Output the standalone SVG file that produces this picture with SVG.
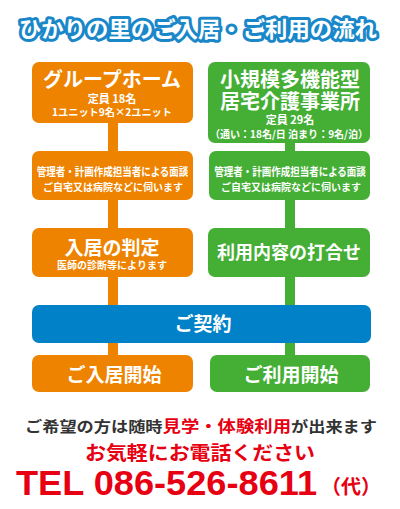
<svg xmlns="http://www.w3.org/2000/svg" width="400" height="509" viewBox="0 0 400 509">
<style>
.j{font-family:"Noto Sans CJK JP","Noto Sans",sans-serif;font-weight:bold;text-anchor:middle;fill:#fff}
.o{fill:#ee8300}
.g{fill:#44ae35}
.b{fill:#0081c8}
.lo{stroke:#ee8300;stroke-width:10;fill:none}
.lg{stroke:#44ae35;stroke-width:10;fill:none}
.dk{fill:#333}
.rd{fill:#e60012}
</style>
<rect width="400" height="509" fill="#fff"/>
<text id="title" class="j" x="198" y="37" font-size="22" stroke="#1a87c9" stroke-width="6" stroke-linejoin="round" paint-order="stroke" textLength="358" lengthAdjust="spacingAndGlyphs">ひかりの里のご入居・ご利用の流れ</text>
<g id="connectors">
<line class="lo" x1="113" y1="120" x2="113" y2="358"/>
<line class="lg" x1="290" y1="140" x2="290" y2="358"/>
</g>
<g id="gh">
<rect class="o" x="32" y="62" width="161" height="61" rx="7"/>
<text class="j" x="112" y="87" font-size="20">グループホーム</text>
<text class="j" x="112" y="103" font-size="11">定員 18名</text>
<text class="j" x="112" y="116" font-size="10" textLength="120" lengthAdjust="spacingAndGlyphs">1ユニット9名×2ユニット</text>
</g>
<g id="sk">
<rect class="g" x="208" y="62" width="162" height="81" rx="7"/>
<text class="j" x="290" y="87" font-size="20">小規模多機能型</text>
<text class="j" x="290" y="109" font-size="20">居宅介護事業所</text>
<text class="j" x="290" y="124" font-size="11">定員 29名</text>
<text class="j" x="289" y="138" font-size="10.5" textLength="158" lengthAdjust="spacingAndGlyphs">（通い：18名/日 泊まり：9名/泊）</text>
</g>
<g id="o2">
<rect class="o" x="32" y="151" width="161" height="49" rx="7"/>
<text class="j" transform="translate(112.5,176) scale(1,1.25)" x="0" y="0" font-size="9.5">管理者・計画作成担当者による面談</text>
<text class="j" x="113" y="191" font-size="10">ご自宅又は病院などに伺います</text>
</g>
<g id="g2">
<rect class="g" x="209" y="151" width="161" height="49" rx="7"/>
<text class="j" transform="translate(290,176) scale(1,1.25)" x="0" y="0" font-size="9.5">管理者・計画作成担当者による面談</text>
<text class="j" x="291" y="191" font-size="10">ご自宅又は病院などに伺います</text>
</g>
<g id="o3">
<rect class="o" x="32" y="228" width="161" height="49" rx="7"/>
<text class="j" x="112" y="255" font-size="19">入居の判定</text>
<text class="j" x="112" y="269" font-size="10">医師の診断等によります</text>
</g>
<g id="g3">
<rect class="g" x="208" y="228" width="162" height="49" rx="7"/>
<text class="j" x="289" y="259" font-size="18">利用内容の打合せ</text>
</g>
<g id="contract">
<rect class="b" x="32" y="305" width="339" height="38" rx="7"/>
<text class="j" x="203" y="331" font-size="19">ご契約</text>
</g>
<g id="o4">
<rect class="o" x="32" y="355" width="161" height="37" rx="7"/>
<text class="j" x="114" y="382" font-size="19">ご入居開始</text>
</g>
<g id="g4">
<rect class="g" x="210" y="355" width="160" height="37" rx="7"/>
<text class="j" x="291" y="382" font-size="19">ご利用開始</text>
</g>
<text class="j dk" x="201" y="432" font-size="15" textLength="352" lengthAdjust="spacingAndGlyphs">ご希望の方は随時<tspan class="rd" font-size="16">見学・体験利用</tspan>が出来ます</text>
<text class="j rd" x="200" y="460" font-size="19" textLength="230" lengthAdjust="spacingAndGlyphs">お気軽にお電話ください</text>
<text x="16" y="495" font-family="Liberation Sans,Arial,sans-serif" font-weight="bold" font-size="35" fill="#e60012" textLength="301" lengthAdjust="spacingAndGlyphs">TEL 086-526-8611</text>
<text class="j rd" x="351" y="494" font-size="20">（代）</text>
</svg>
